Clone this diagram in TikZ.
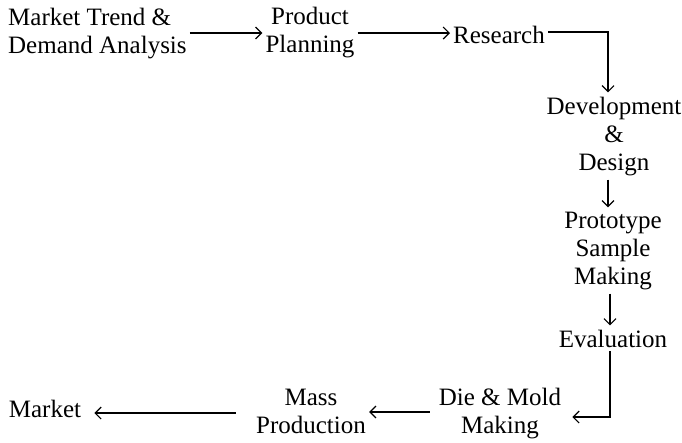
\documentclass[tikz,border=0pt]{standalone}
\usepackage{fontspec}
\setmainfont{Liberation Serif}
\usetikzlibrary{arrows.meta,calc}
\begin{document}
\begin{tikzpicture}[x=1pt,y=-1pt,
  lbl/.style={inner xsep=3pt, inner ysep=4pt, font=\fontsize{25}{28}\selectfont},
  arr/.style={line width=1.2pt, -{Straight Barb[length=6pt,width=12pt]}}]
\useasboundingbox (0,0) rectangle (682,442);
\node[lbl, anchor=base west, align=left] (A) at (5,53) {Market Trend \&\\Demand Analysis};
\node[lbl, anchor=base, align=center] (B) at (310,52) {Product\\Planning};
\node[lbl, anchor=base] (C) at (499,43) {Research};
\node[lbl, anchor=base, align=center] (D) at (614,170) {Development\\\&\\Design};
\node[lbl, anchor=base, align=center] (E) at (613,284) {Prototype\\Sample\\Making};
\node[lbl, anchor=base] (F) at (613,347) {Evaluation};
\node[lbl, anchor=base, align=center] (G) at (500,433) {Die \& Mold\\Making};
\node[lbl, anchor=base, align=center] (H) at (311,433) {Mass\\Production};
\node[lbl, anchor=base] (I) at (45,417) {Market};
\coordinate (col) at (608,0);
\draw[arr] (A.east |- 0,33) -- (B.west |- 0,33);
\draw[arr] (B.east |- 0,33) -- (C.west |- 0,33);
\draw[arr] (C.east |- 0,32) -| (D.north -| col);
\draw[arr] (D.south -| col) -- (E.north -| col);
\draw[arr] ($(E.south -| col)+(2,0)$) -- ($(F.north -| col)+(2,0)$);
\draw[arr] ($(F.south -| col)+(2,0)$) |- ($(G.east)+(8,4)$);
\draw[arr, shorten <=6pt] (G.west |- 0,412) -- (H.east |- 0,412);
\draw[arr, shorten <=17pt, shorten >=10pt] (H.west |- 0,413) -- (I.east |- 0,413);
\end{tikzpicture}
\end{document}
